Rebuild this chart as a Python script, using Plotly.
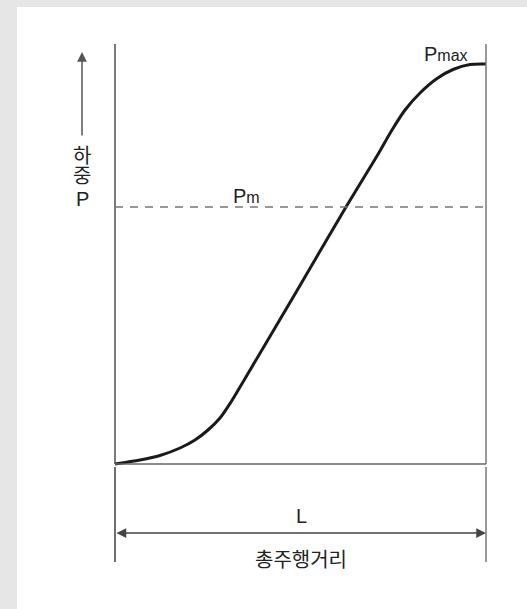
import plotly.graph_objects as go

# Data (normalised: travel x in units of L, load y in units of Pmax)
travel = [0.0, 0.0674, 0.1213, 0.1752, 0.2156, 0.2507, 0.2830, 0.3127, 0.3450,
          0.4852, 0.6226, 0.7062, 0.7466, 0.7817, 0.8221, 0.8679, 0.9111, 0.9569, 1.0]
load = [0.0, 0.010, 0.02125, 0.040, 0.060, 0.085, 0.115, 0.155, 0.205,
        0.425, 0.6425, 0.770, 0.835, 0.885, 0.9275, 0.96375, 0.98625, 0.99875, 1.0]
L_total = 1.0
P_max = 1.0
P_m = 0.6425

W, H = 527, 609
# pixel geometry of axes
px0, px1 = 115, 486
py0, py1 = 464, 64
sx = (px1 - px0) / L_total
sy = (py0 - py1) / P_max
x_range = [-px0 / sx, (W - px0) / sx]
y_range = [(py0 - H) / sy, py0 / sy]

def X(px):
    return (px - px0) / sx

def Y(py):
    return (py0 - py) / sy

FONT = "Liberation Sans, Arial, Noto Sans CJK KR, sans-serif"

fig = go.Figure()

# load curve
fig.add_trace(go.Scatter(x=travel, y=load, mode="lines",
                         line=dict(color="#1a1a1a", width=3, shape="spline", smoothing=0.8),
                         hoverinfo="skip", showlegend=False))

shapes = []
# white panel
shapes.append(dict(type="rect", xref="paper", yref="paper", x0=17 / W, x1=1.0,
                   y0=0.0, y1=1 - 7 / H, fillcolor="white", line=dict(width=0), layer="below"))
# frame lines
shapes.append(dict(type="line", x0=0, x1=0, y0=0, y1=Y(44), line=dict(color="#333333", width=1.3)))
shapes.append(dict(type="line", x0=L_total, x1=L_total, y0=0, y1=Y(44), line=dict(color="#777777", width=1.5)))
shapes.append(dict(type="line", x0=0, x1=L_total, y0=0, y1=0, line=dict(color="#666666", width=1.5)))
# Pm dashed line
shapes.append(dict(type="line", x0=0, x1=L_total, y0=P_m, y1=P_m,
                   line=dict(color="#777777", width=1.3, dash="8px,7px")))
# extension lines for dimension
shapes.append(dict(type="line", x0=0, x1=0, y0=Y(467), y1=Y(562), line=dict(color="#222222", width=1.3)))
shapes.append(dict(type="line", x0=L_total, x1=L_total, y0=Y(467), y1=Y(562), line=dict(color="#777777", width=1.5)))

annotations = []
# dimension arrow
annotations.append(dict(x=L_total, y=Y(533), ax=0, ay=Y(533), xref="x", yref="y",
                        axref="x", ayref="y", text="", showarrow=True, arrowhead=2,
                        arrowside="end+start", arrowsize=1.3, arrowwidth=1.5, arrowcolor="#444444",
                        standoff=0, startstandoff=0))
# vertical load arrow
annotations.append(dict(x=X(82), y=Y(52), ax=X(82), ay=Y(137), xref="x", yref="y",
                        axref="x", ayref="y", text="", showarrow=True, arrowhead=2,
                        arrowsize=1.3, arrowwidth=1.5, arrowcolor="#555555"))
# y label
for ch, py in [("하", 156), ("중", 176), ("P", 199)]:
    annotations.append(dict(x=X(82), y=Y(py), text=ch, showarrow=False,
                            font=dict(family=FONT, size=20, color="#222222")))
annotations.append(dict(x=X(301), y=Y(516), text="L", showarrow=False,
                        font=dict(family=FONT, size=20, color="#222222")))
annotations.append(dict(x=X(301), y=Y(560), text="총주행거리", showarrow=False,
                        font=dict(family=FONT, size=20, color="#222222")))
annotations.append(dict(x=X(446), y=Y(54),
                        text="P<span style='font-size:16px'>max</span>", showarrow=False,
                        font=dict(family=FONT, size=20, color="#222222")))
annotations.append(dict(x=X(246), y=Y(196),
                        text="P<span style='font-size:16px'>m</span>", showarrow=False,
                        font=dict(family=FONT, size=20, color="#222222")))

fig.update_layout(
    width=W, height=H,
    margin=dict(l=0, r=0, t=0, b=0),
    paper_bgcolor="#e6e6e6",
    plot_bgcolor="rgba(0,0,0,0)",
    xaxis=dict(range=x_range, visible=False, fixedrange=True),
    yaxis=dict(range=y_range, visible=False, fixedrange=True),
    shapes=shapes,
    annotations=annotations,
    showlegend=False,
)

fig.write_html("out.html", config={"displayModeBar": False},
               post_script="document.body.style.margin='0';document.body.style.overflow='hidden';")
